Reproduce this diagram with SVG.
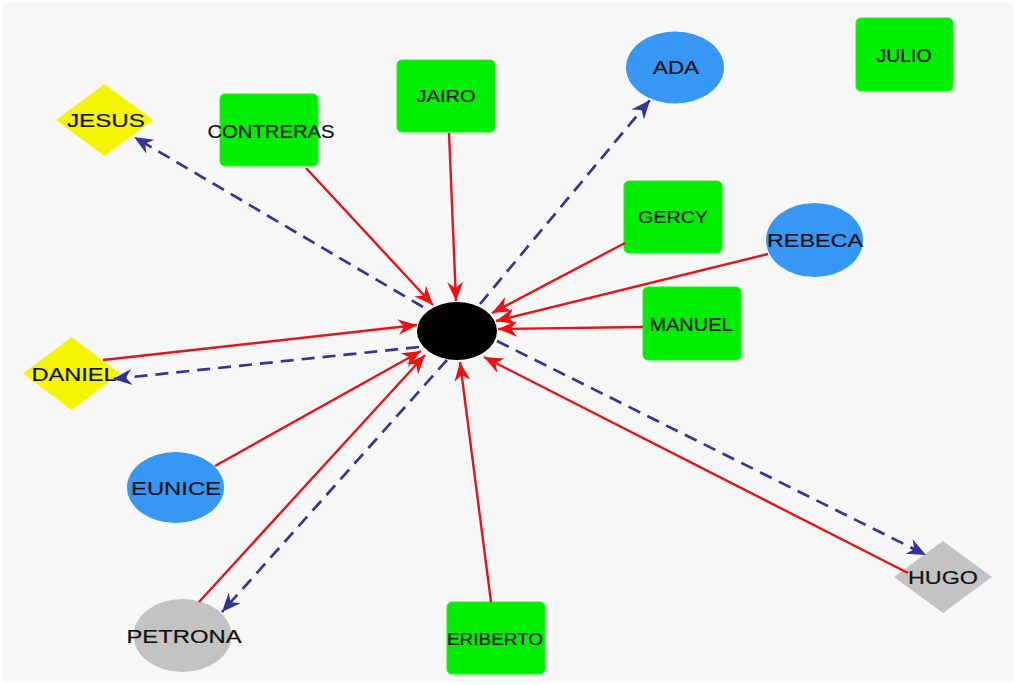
<svg xmlns="http://www.w3.org/2000/svg" width="1016" height="685" viewBox="0 0 1016 685">
<style>
.bg{fill:#f7f7f7}
.sq{fill:#00ee00;stroke:#22f022;stroke-width:1}
.bl{fill:#3797f4}
.ye{fill:#f5f500}
.gr{fill:#c3c3c3}
.hub{fill:#000}
text{font-family:"Liberation Sans",Arial,sans-serif;font-size:18px;fill:#111;text-anchor:middle;stroke:#111;stroke-width:0.2}
.sm{font-size:16.5px}
.red{stroke:#e3141a;stroke-width:2.4;fill:none;marker-end:url(#ar)}
.blu{stroke:#353597;stroke-width:2.7;fill:none;stroke-dasharray:13 8;marker-end:url(#ab)}
</style>
<defs>
<marker id="ar" markerUnits="userSpaceOnUse" markerWidth="20" markerHeight="16" refX="19" refY="8" orient="auto">
<path d="M0,0 L19,8 L0,16 L6,8 Z" fill="#f01010"/>
</marker>
<marker id="ab" markerUnits="userSpaceOnUse" markerWidth="20" markerHeight="16" refX="19" refY="8" orient="auto">
<path d="M0,0 L19,8 L0,16 L6,8 Z" fill="#333399"/>
</marker>
</defs>
<rect x="0" y="0" width="1016" height="685" fill="#ffffff"/>
<rect class="bg" x="3" y="3" width="1010" height="679"/>
<g id="nodes">
<g id="hub"><ellipse class="hub" cx="457" cy="331" rx="40" ry="29"/></g>
<g id="JULIO"><rect class="sq" x="856" y="18" width="97" height="73" rx="5"/><text x="904" y="62" textLength="55" lengthAdjust="spacingAndGlyphs">JULIO</text></g>
<g id="ADA"><ellipse class="bl" cx="675" cy="67.5" rx="49" ry="36"/><text x="676" y="74" textLength="46" lengthAdjust="spacingAndGlyphs">ADA</text></g>
<g id="JAIRO"><rect class="sq" x="397" y="60" width="98" height="72" rx="5"/><text class="sm" x="446" y="102" textLength="59" lengthAdjust="spacingAndGlyphs">JAIRO</text></g>
<g id="CONTRERAS"><rect class="sq" x="220" y="94" width="98" height="72" rx="5"/><text x="271" y="138" textLength="127" lengthAdjust="spacingAndGlyphs">CONTRERAS</text></g>
<g id="JESUS"><polygon class="ye" points="104.5,84 153,120 104.5,156 56,120"/><text x="106" y="127" textLength="78" lengthAdjust="spacingAndGlyphs">JESUS</text></g>
<g id="GERCY"><rect class="sq" x="624" y="181" width="98" height="72" rx="5"/><text class="sm" x="673" y="223" textLength="70" lengthAdjust="spacingAndGlyphs">GERCY</text></g>
<g id="REBECA"><ellipse class="bl" cx="814.5" cy="240" rx="48.5" ry="37"/><text x="815" y="247" textLength="96" lengthAdjust="spacingAndGlyphs">REBECA</text></g>
<g id="MANUEL"><rect class="sq" x="643" y="287" width="98" height="73" rx="5"/><text x="691" y="331" textLength="83" lengthAdjust="spacingAndGlyphs">MANUEL</text></g>
<g id="DANIEL"><polygon class="ye" points="71.5,337 120,373.5 71.5,410 23,373.5"/><text x="74" y="381" textLength="85" lengthAdjust="spacingAndGlyphs">DANIEL</text></g>
<g id="EUNICE"><ellipse class="bl" cx="175.5" cy="487.5" rx="48.5" ry="35.5"/><text x="176" y="495" textLength="90" lengthAdjust="spacingAndGlyphs">EUNICE</text></g>
<g id="PETRONA"><ellipse class="gr" cx="182.5" cy="635.5" rx="49" ry="36.5"/><text x="184" y="643" textLength="115" lengthAdjust="spacingAndGlyphs">PETRONA</text></g>
<g id="ERIBERTO"><rect class="sq" x="447" y="602" width="98" height="72" rx="5"/><text class="sm" x="495" y="645" textLength="96" lengthAdjust="spacingAndGlyphs">ERIBERTO</text></g>
<g id="HUGO"><polygon class="gr" points="943,541 992,577 943,613 894,577"/><text x="943" y="584" textLength="70" lengthAdjust="spacingAndGlyphs">HUGO</text></g>
</g>
<g id="connectors">
<line class="red" x1="306" y1="168" x2="433" y2="305"/>
<line class="red" x1="449" y1="133" x2="456" y2="301"/>
<line class="red" x1="625" y1="243" x2="492" y2="313"/>
<line class="red" x1="768" y1="254" x2="496" y2="321"/>
<line class="red" x1="643" y1="327" x2="498" y2="329"/>
<line class="red" x1="103" y1="360" x2="417" y2="325"/>
<line class="red" x1="215" y1="466" x2="421" y2="351"/>
<line class="red" x1="199" y1="602" x2="425" y2="355"/>
<line class="red" x1="491" y1="602" x2="460" y2="362"/>
<line class="red" x1="908" y1="573" x2="484" y2="357"/>
<line class="blu" x1="423" y1="307" x2="134" y2="137"/>
<line class="blu" x1="480" y1="304" x2="650" y2="100"/>
<line class="blu" x1="419" y1="347" x2="113" y2="379"/>
<line class="blu" x1="447" y1="360" x2="222" y2="612"/>
<line class="blu" x1="497" y1="341" x2="926" y2="555"/>
</g>
</svg>
